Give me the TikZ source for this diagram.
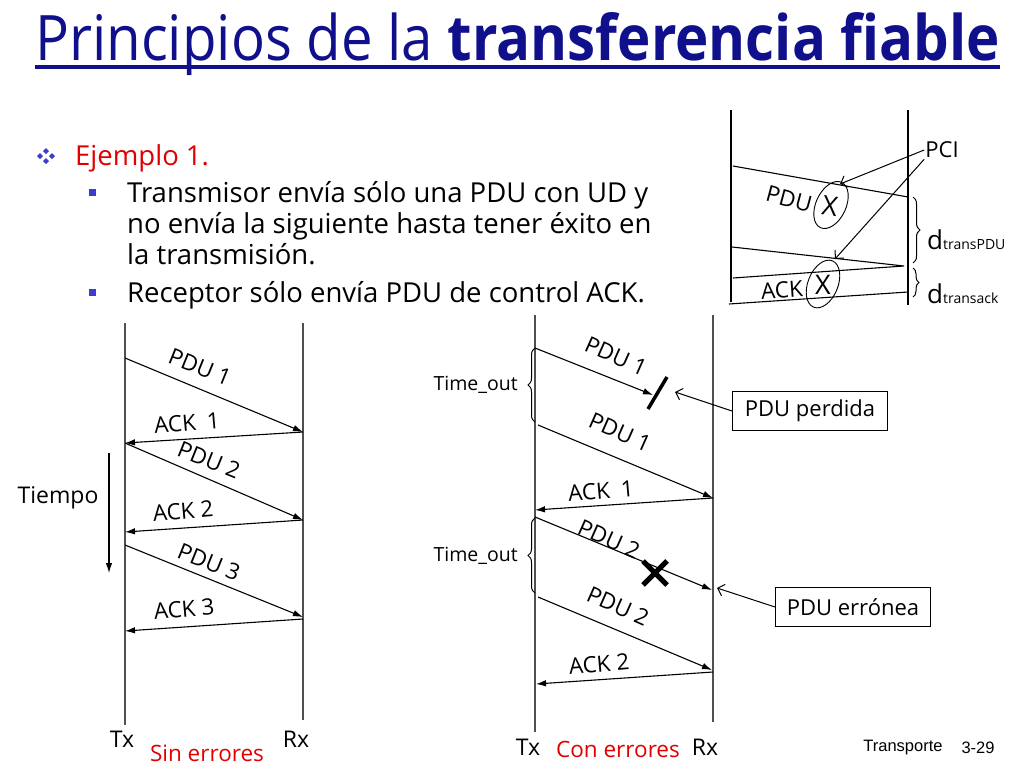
\documentclass[tikz,border=0pt]{standalone}
\usepackage{fontspec}
\setmainfont{Open Sans}
\newfontfamily\footfont{Liberation Sans}
\usetikzlibrary{arrows.meta,decorations.pathreplacing,shapes.geometric}
\definecolor{titleblue}{RGB}{16,16,140}
\definecolor{bulblue}{RGB}{60,60,205}
\definecolor{redtxt}{RGB}{225,0,0}
\definecolor{lifegray}{RGB}{80,80,80}
\begin{document}
\begin{tikzpicture}[x=1pt,y=-1pt,
  lifeline/.style={draw=lifegray,line width=1.3pt},
  thinline/.style={draw=black,line width=1.1pt},
  msg/.style={draw=black,line width=1.1pt,-{Latex[length=10pt,width=6.5pt]}},
  note/.style={draw=black,line width=1pt,-{Straight Barb[length=6pt,width=12pt]}},
  lbl/.style={inner sep=0pt,font=\fontsize{22.5}{24}\selectfont},
  btxt/.style={anchor=base west,inner sep=0pt,font=\fontsize{27.5}{30}\selectfont},
  side/.style={inner sep=0pt,font=\fontsize{23}{25}\selectfont},
  tout/.style={anchor=east,inner sep=0pt,font=\fontsize{19.5}{21}\selectfont},
  redlbl/.style={inner sep=0pt,text=redtxt,font=\fontsize{22.5}{24}\selectfont},
  notebox/.style={draw=black,line width=1pt,minimum width=155pt,minimum height=39pt,inner sep=0pt,font=\fontsize{22}{24}\selectfont},
  bigx/.style={inner sep=0pt,font=\fontsize{27}{27}\selectfont},
  ell/.style={draw=black,line width=0.9pt,ellipse,minimum width=30pt,minimum height=50pt,inner sep=0pt},
  brc/.style={draw=black,line width=1pt,decorate,decoration={brace,amplitude=7pt}}
]
\useasboundingbox (0,0) rectangle (1024,768);
\fill[white] (0,0) rectangle (1024,768);

% ---------- title ----------
\node[anchor=base west,inner sep=0pt,text=titleblue] (title) at (35,60)
  {\resizebox{965pt}{48pt}{\fontsize{64}{70}\selectfont Principios de la \textbf{transferencia fiable}}};
\coordinate (ul1) at (35,67);
\coordinate (ul2) at (1000,67);
\draw[titleblue,line width=4pt] (ul1) -- (ul2);

% ---------- bullets ----------
\foreach \cx/\cy in {46/151,40/156,52/156,46/161}
  \fill[bulblue] (\cx,\cy-3) -- (\cx+3,\cy) -- (\cx,\cy+3) -- (\cx-3,\cy) -- cycle;
\fill[bulblue] (89,189) rectangle (96,196);
\fill[bulblue] (89,289) rectangle (96,296);
\node[btxt,text=redtxt] (ej) at (75,165) {Ejemplo 1.};
\node[btxt] (b1a) at (127,202) {Transmisor envía sólo una PDU con UD y};
\node[btxt] (b1b) at (127,233) {no envía la siguiente hasta tener éxito en};
\node[btxt] (b1c) at (127,264) {la transmisión.};
\node[btxt] (b2) at (127,302) {Receptor sólo envía PDU de control ACK.};

% ---------- top-right sketch ----------
\coordinate (tl1) at (731,110); \coordinate (tl2) at (731,302);
\coordinate (tr1) at (908,110); \coordinate (tr2) at (908,305);
\draw[thinline] (tl1) -- (tl2);
\draw[thinline] (tr1) -- (tr2);
\coordinate (p1a) at (733,166); \coordinate (p1b) at (908,197);
\coordinate (p2a) at (732,247); \coordinate (p2b) at (904,266);
\coordinate (p3a) at (733,278);
\coordinate (p4a) at (729,304); \coordinate (p4b) at (908,292);
\draw[thinline] (p1a) -- (p1b);
\draw[thinline] (p2a) -- (p2b) -- (p3a);
\draw[thinline] (p4a) -- (p4b);
\node[lbl,rotate=-15] (tpdu) at (789,199) {PDU};
\node[bigx,rotate=-8] (tx1) at (830,206) {X};
\node[ell,rotate=-25] (te1) at (831,205) {};
\node[lbl,rotate=4] (tack) at (782,290) {ACK};
\node[bigx] (tx2) at (823,285) {X};
\node[ell,rotate=-22] (te2) at (823,284) {};
\node[inner sep=1pt,font=\fontsize{22}{24}\selectfont] (pci) at (942,150) {PCI};
\coordinate (pcia) at (840,184);
\coordinate (pcib) at (835,259);
\draw[note] (pci.west) -- (pcia);
\draw[note] (pci.south west) -- (pcib);
\coordinate (br1a) at (913,197); \coordinate (br1b) at (913,263);
\coordinate (br2a) at (913,268); \coordinate (br2b) at (913,297);
\draw[brc] (br1a) -- (br1b);
\draw[brc,decoration={brace,amplitude=6pt}] (br2a) -- (br2b);
\node[anchor=base west,inner sep=0pt] (dpdu) at (927,249)
  {\fontsize{26}{26}\selectfont d\fontsize{14}{14}\selectfont transPDU};
\node[anchor=base west,inner sep=0pt] (dack) at (927,303)
  {\fontsize{26}{26}\selectfont d\fontsize{14}{14}\selectfont transack};

% ---------- left diagram: sin errores ----------
\coordinate (ltx1) at (125,323); \coordinate (ltx2) at (125,725);
\coordinate (lrx1) at (303,323); \coordinate (lrx2) at (303,720);
\draw[lifeline] (ltx1) -- (ltx2);
\draw[lifeline] (lrx1) -- (lrx2);
\coordinate (a1) at (125,358); \coordinate (a2) at (303,432);
\coordinate (a3) at (125,443); \coordinate (a4) at (303,520);
\coordinate (a5) at (125,532); \coordinate (a6) at (125,545);
\coordinate (a7) at (303,617); \coordinate (a8) at (303,619);
\coordinate (a9) at (125,631);
\draw[msg] (a1) -- (a2);
\draw[msg] (a2) -- (a3);
\draw[msg] (a3) -- (a4);
\draw[msg] (a4) -- (a5);
\draw[msg] (a6) -- (a7);
\draw[msg] (a8) -- (a9);
\node[lbl,rotate=-22] (lp1) at (200,367) {PDU 1};
\node[lbl,rotate=5] (la1) at (187,423) {ACK\enspace 1};
\node[lbl,rotate=-22] (lp2) at (209,460) {PDU 2};
\node[lbl,rotate=5] (la2) at (183,511) {ACK 2};
\node[lbl,rotate=-22] (lp3) at (209,562) {PDU 3};
\node[lbl,rotate=5] (la3) at (184,609) {ACK 3};
\node[side] (tiempo) at (58,498) {Tiempo};
\coordinate (ti1) at (109,453); \coordinate (ti2) at (109,573);
\draw[msg] (ti1) -- (ti2);
\node[side] (ltx) at (122,739) {Tx};
\node[side] (lrx) at (296,739) {Rx};
\node[redlbl] (sin) at (207,753) {Sin errores};

% ---------- right diagram: con errores ----------
\coordinate (rtx1) at (535,315); \coordinate (rtx2) at (535,732);
\coordinate (rrx1) at (713,315); \coordinate (rrx2) at (713,722);
\draw[lifeline] (rtx1) -- (rtx2);
\draw[lifeline] (rrx1) -- (rrx2);
\coordinate (c1) at (535,348); \coordinate (c2) at (653,395);
\coordinate (c3) at (538,425); \coordinate (c4) at (713,498);
\coordinate (c5) at (535,510);
\coordinate (c6) at (535,517); \coordinate (c7) at (712,590);
\coordinate (c8) at (538,597); \coordinate (c9) at (712,670);
\coordinate (c10) at (713,672); \coordinate (c11) at (536,684);
\draw[msg] (c1) -- (c2);
\draw[msg] (c3) -- (c4);
\draw[msg] (c4) -- (c5);
\draw[msg] (c6) -- (c7);
\draw[msg] (c8) -- (c9);
\draw[msg] (c10) -- (c11);
\coordinate (bar1) at (667,377); \coordinate (bar2) at (648,409);
\draw[black,line width=3.5pt] (bar1) -- (bar2);
\coordinate (xa1) at (643,561); \coordinate (xa2) at (667,585);
\coordinate (xb1) at (667,561); \coordinate (xb2) at (643,585);
\draw[black,line width=5pt] (xa1) -- (xa2);
\draw[black,line width=5pt] (xb1) -- (xb2);
\node[lbl,rotate=-24] (rp1) at (616,356) {PDU 1};
\node[lbl,rotate=-24] (rp1b) at (620,432) {PDU 1};
\node[lbl,rotate=5] (ra1) at (601,491) {ACK\enspace 1};
\node[lbl,rotate=-24] (rp2) at (609,539) {PDU 2};
\node[lbl,rotate=-24] (rp2b) at (618,606) {PDU 2};
\node[lbl,rotate=5] (ra2) at (599,664) {ACK 2};
\coordinate (to1a) at (535,422); \coordinate (to1b) at (535,348);
\coordinate (to2a) at (535,593); \coordinate (to2b) at (535,518);
\draw[brc] (to1a) -- (to1b);
\draw[brc] (to2a) -- (to2b);
\node[tout] (tout1) at (518,385) {Time\_out};
\node[tout] (tout2) at (518,556) {Time\_out};
\node[notebox] (perd) at (810,411) {PDU perdida};
\node[notebox] (erro) at (853,607) {PDU errónea};
\coordinate (perdend) at (675,392);
\coordinate (erroend) at (717,588);
\draw[note] (perd.west) -- (perdend);
\draw[note] (erro.west) -- (erroend);
\node[side] (rtx) at (528,747) {Tx};
\node[redlbl] (con) at (618,749) {Con errores};
\node[side] (rrx) at (705,747) {Rx};

% ---------- footer ----------
\node[inner sep=0pt,font=\footfont\fontsize{16.5}{18}\selectfont] (trans) at (903,748) {Transporte};
\node[inner sep=0pt,font=\footfont\fontsize{16.5}{18}\selectfont] (page) at (978,748) {3-29};
\end{tikzpicture}
\end{document}
